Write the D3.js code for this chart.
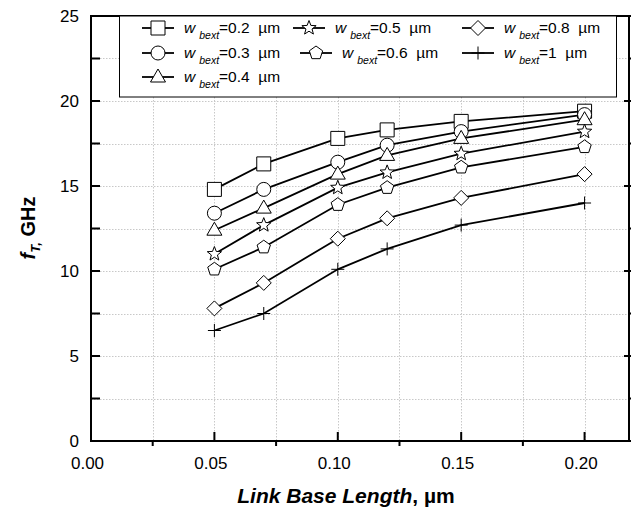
<!DOCTYPE html>
<html><head><meta charset="utf-8">
<script src="https://cdn.jsdelivr.net/npm/d3@7"></script>
<style>body{margin:0;background:#fff}svg{display:block}text{font-family:"Liberation Sans",Arial,sans-serif}</style>
</head><body><svg id="c" width="631" height="508"></svg>
<script>
const xs = [0.05, 0.07, 0.10, 0.12, 0.15, 0.20];
const w02 = [14.8, 16.3, 17.8, 18.3, 18.8, 19.4];
const w03 = [13.4, 14.8, 16.4, 17.4, 18.2, 19.2];
const w04 = [12.4, 13.7, 15.7, 16.8, 17.8, 18.9];
const w05 = [11.0, 12.7, 14.9, 15.8, 16.9, 18.2];
const w06 = [10.1, 11.4, 13.9, 14.9, 16.1, 17.3];
const w08 = [7.8, 9.3, 11.9, 13.1, 14.3, 15.7];
const w10 = [6.5, 7.5, 10.1, 11.3, 12.7, 14.0];
const seriesLabels = ["0.2", "0.3", "0.4", "0.5", "0.6", "0.8", "1"];
const xTicks = [0, 0.05, 0.10, 0.15, 0.20];
const yTicks = [0, 5, 10, 15, 20, 25];

const markers = ["square", "circle", "triangle", "star", "pentagon", "diamond", "plus"];
const values = [w02, w03, w04, w05, w06, w08, w10];
const series = seriesLabels.map((lab, i) => ({lab, v: values[i], m: markers[i]}));

const svg = d3.select("#c");
const L = 91, R = 629, T = 16, B = 441;
const x = d3.scaleLinear().domain([0, 0.218]).range([L, R]);
const y = d3.scaleLinear().domain([0, 25]).range([B, T]);

// grid
const gx = d3.range(0.025, 0.218, 0.025);
const gy = d3.range(2.5, 25, 2.5);
const grid = svg.append("g").attr("stroke", "#c8c8c8").attr("stroke-width", 1).attr("stroke-dasharray", "1.5,1.5");
grid.selectAll(".gv").data(gx).join("line").attr("x1", d => Math.round(x(d)) + 0.5).attr("x2", d => Math.round(x(d)) + 0.5).attr("y1", T).attr("y2", B);
grid.selectAll(".gh").data(gy).join("line").attr("y1", d => Math.round(y(d)) + 0.5).attr("y2", d => Math.round(y(d)) + 0.5).attr("x1", L).attr("x2", R);

// marker paths
function markerPath(type) {
  const p = d3.path();
  if (type === "square") { p.rect(-7, -7, 14, 14); }
  else if (type === "circle") { p.arc(0, 0, 7, 0, 2 * Math.PI); p.closePath(); }
  else if (type === "triangle") { p.moveTo(0, -8); p.lineTo(7.5, 5); p.lineTo(-7.5, 5); p.closePath(); }
  else if (type === "diamond") { p.moveTo(0, -7.5); p.lineTo(7.5, 0); p.lineTo(0, 7.5); p.lineTo(-7.5, 0); p.closePath(); }
  else if (type === "pentagon") {
    for (let i = 0; i < 5; i++) { const a = -Math.PI / 2 + i * 2 * Math.PI / 5; const px = 7 * Math.cos(a), py = 7 * Math.sin(a); i ? p.lineTo(px, py) : p.moveTo(px, py); }
    p.closePath();
  } else if (type === "star") {
    for (let i = 0; i < 10; i++) { const r = i % 2 ? 3.2 : 7.5; const a = -Math.PI / 2 + i * Math.PI / 5; const px = r * Math.cos(a), py = r * Math.sin(a); i ? p.lineTo(px, py) : p.moveTo(px, py); }
    p.closePath();
  } else if (type === "plus") { p.moveTo(-6.5, 0); p.lineTo(6.5, 0); p.moveTo(0, -6.5); p.lineTo(0, 6.5); }
  return p.toString();
}

// lines
const line = d3.line().x((d, i) => x(xs[i])).y(d => y(d));
const lg = svg.append("g");
series.forEach(s => {
  lg.append("path").attr("d", line(s.v)).attr("fill", "none").attr("stroke", "#000").attr("stroke-width", 1.8);
});
series.forEach(s => {
  lg.selectAll(null).data(s.v).join("path")
    .attr("transform", (d, i) => `translate(${x(xs[i])},${y(d)})`)
    .attr("d", markerPath(s.m))
    .attr("fill", s.m === "plus" ? "none" : "#fff")
    .attr("stroke", "#000").attr("stroke-width", 1);
});

// axes frame
const fr = svg.append("g").attr("stroke", "#000").attr("fill", "none");
fr.append("line").attr("x1", L).attr("x2", 631).attr("y1", B).attr("y2", B).attr("stroke-width", 2);
fr.append("line").attr("x1", L).attr("x2", 631).attr("y1", T).attr("y2", T).attr("stroke-width", 2);
fr.append("line").attr("x1", L).attr("x2", L).attr("y1", T - 1).attr("y2", B + 1).attr("stroke-width", 2);
fr.append("line").attr("x1", R).attr("x2", R).attr("y1", T - 1).attr("y2", B + 1).attr("stroke-width", 2);

// bottom axis ticks: majors inward, minors outward
const xMinor = [0.025, 0.075, 0.125, 0.175];
const xAxis = d3.axisBottom(x).tickValues(xTicks).tickFormat(d3.format(".2f")).tickSize(0).tickPadding(0);
const xg = svg.append("g").attr("transform", `translate(0,${B})`).call(xAxis);
xg.select(".domain").remove();
xg.selectAll("text").attr("font-size", 17).attr("fill", "#000").attr("dy", "0.71em").attr("y", 16).attr("dx", -4);
svg.append("g").selectAll("line").data(xTicks.slice(1)).join("line")
  .attr("x1", d => x(d)).attr("x2", d => x(d)).attr("y1", B - 9).attr("y2", B).attr("stroke", "#000").attr("stroke-width", 2);
svg.append("g").selectAll("line").data(xMinor).join("line")
  .attr("x1", d => x(d)).attr("x2", d => x(d)).attr("y1", B).attr("y2", B + 5).attr("stroke", "#000").attr("stroke-width", 2);

// left axis
const yAxis = d3.axisLeft(y).tickValues(yTicks).tickFormat(d3.format("d")).tickSize(0).tickPadding(12);
const yg = svg.append("g").attr("transform", `translate(${L},0)`).call(yAxis);
yg.select(".domain").remove();
yg.selectAll("text").attr("font-size", 17).attr("fill", "#000");
svg.append("g").selectAll("line").data(d3.range(2.5, 25, 2.5)).join("line")
  .attr("x1", L).attr("x2", L + 9).attr("y1", d => y(d)).attr("y2", d => y(d)).attr("stroke", "#000").attr("stroke-width", 2);

// right axis ticks
svg.append("g").selectAll("line").data(d3.range(2.5, 25, 2.5)).join("line")
  .attr("x1", d => (d % 5 === 0) ? R - 5 : R).attr("x2", 631).attr("y1", d => y(d)).attr("y2", d => y(d)).attr("stroke", "#000").attr("stroke-width", 2);

// axis titles
const xt = svg.append("text").attr("x", 346).attr("y", 503).attr("text-anchor", "middle").attr("font-size", 21).attr("font-weight", "bold");
xt.append("tspan").attr("font-style", "italic").text("Link Base Length");
xt.append("tspan").text(", µm");

const yt = svg.append("text").attr("transform", "translate(35,228) rotate(-90)").attr("text-anchor", "middle").attr("font-size", 20).attr("font-weight", "bold");
yt.append("tspan").attr("font-style", "italic").text("f");
yt.append("tspan").attr("font-style", "italic").attr("font-size", 13).attr("dy", 5).text("T,");
yt.append("tspan").attr("dy", -5).text(" GHz");

// legend
const leg = svg.append("g");
leg.append("rect").attr("x", 119.5).attr("y", 16).attr("width", 497).attr("height", 81).attr("fill", "#fff").attr("stroke", "#000").attr("stroke-width", 1);
const legPos = [
  [158, 28], [158, 53], [158, 77],
  [309, 28], [316, 53],
  [478, 28], [478, 53]
];
series.forEach((s, k) => {
  const [cx, cy] = legPos[k];
  leg.append("line").attr("x1", cx - 16).attr("x2", cx + 16).attr("y1", cy).attr("y2", cy).attr("stroke", "#000").attr("stroke-width", 1.8);
  leg.append("path").attr("transform", `translate(${cx},${cy})`).attr("d", markerPath(s.m))
    .attr("fill", s.m === "plus" ? "none" : "#fff").attr("stroke", "#000").attr("stroke-width", 1);
  const t = leg.append("text").attr("x", cx + 26).attr("y", cy + 5).attr("font-size", 15.5);
  t.append("tspan").attr("font-style", "italic").text("w");
  t.append("tspan").attr("font-style", "italic").attr("font-size", 10.5).attr("dx", 4).attr("dy", 6).text("bext");
  t.append("tspan").attr("dy", -6).text("=" + s.lab + "\u00a0\u00a0µm");
});
</script></body></html>
